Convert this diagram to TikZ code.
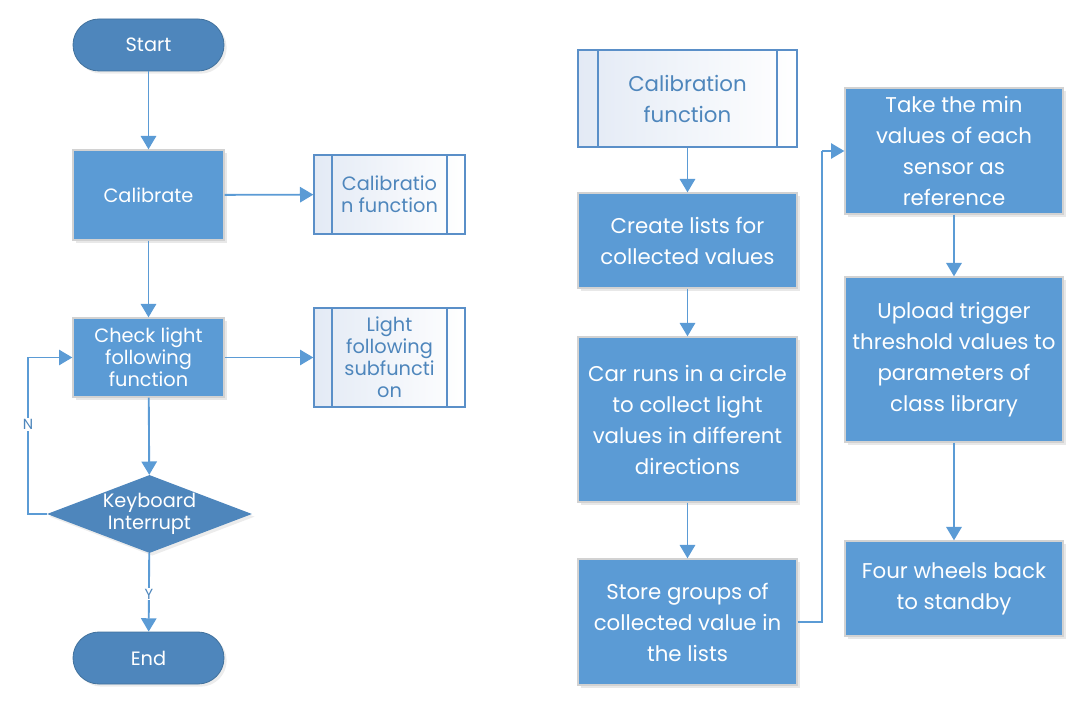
\documentclass[tikz,border=0pt]{standalone}
\usepackage{fontspec}
\setmainfont{Poppins}
\usetikzlibrary{shapes.geometric,arrows.meta,shadows}
\definecolor{boxblue}{HTML}{5B9BD5}
\definecolor{termblue}{HTML}{4E86BC}
\definecolor{termedge}{HTML}{41719C}
\definecolor{subedge}{HTML}{5A8FC8}
\definecolor{sublight}{HTML}{E3EAF5}
\tikzset{
  flow/.style={draw=boxblue, line width=1.4pt, -{Triangle[length=10pt,width=11.5pt]}},
  link/.style={draw=boxblue, line width=1.4pt},
  proc/.style={rectangle, fill=boxblue, draw=gray!35, line width=1pt, text=white, align=center,
    inner sep=2pt, drop shadow={opacity=0.18, shadow xshift=2pt, shadow yshift=-2pt}},
  term/.style={rectangle, rounded corners=19.5pt, fill=termblue, draw=termedge, line width=0.6pt,
    text=white, align=center, minimum width=113.25pt, minimum height=39pt,
    drop shadow={opacity=0.15, shadow xshift=2pt, shadow yshift=-2pt}},
  decide/.style={diamond, aspect=2.63, inner sep=0pt, fill=termblue, text=white, align=center,
    minimum width=153.75pt, minimum height=58.5pt,
    drop shadow={opacity=0.15, shadow xshift=2pt, shadow yshift=-2pt}},
  subproc/.style={rectangle, draw=subedge, line width=1pt, left color=sublight, right color=white,
    text=termblue, align=center, inner sep=2pt,
    path picture={
      \draw[subedge, line width=1pt]
        ([xshift=#1]path picture bounding box.north west) -- ([xshift=#1]path picture bounding box.south west)
        ([xshift=-#1]path picture bounding box.north east) -- ([xshift=-#1]path picture bounding box.south east);}},
  small/.style={font=\fontsize{14.5}{16.5}\selectfont},
  big/.style={font=\fontsize{16}{23.25}\selectfont},
  yn/.style={fill=white, text=termblue, inner sep=1pt, font=\fontsize{11}{13}\selectfont}
}
\begin{document}
\begin{tikzpicture}[x=0.75pt, y=-0.75pt]
\useasboundingbox (0,0) rectangle (1083,709);
% left chart
\node[term, small] (start) at (148.5,45) {Start};
\node[proc, small, minimum width=113.25pt, minimum height=67.5pt] (calib) at (148.5,195) {Calibrate};
\node[subproc=13.5pt, small, minimum width=113.25pt, minimum height=59.25pt] (calfn) at (389.5,194.5) {Calibratio\\n function};
\node[proc, small, minimum width=113.25pt, minimum height=59.25pt] (check) at (148.5,357.5) {Check light\\following\\function};
\node[subproc=13.5pt, small, minimum width=113.25pt, minimum height=74.25pt] (lightfn) at (389.5,357.5) {Light\\following\\subfuncti\\on};
\node[decide, small] (kbd) at (149.5,514) {Keyboard\\Interrupt};
\node[term, small] (stop) at (148.5,658) {End};
\coordinate (loopbot) at (28,514);
\coordinate (looptop) at (28,357.5);

\draw[flow] (start) -- (calib);
\draw[flow] (calib) -- (calfn);
\draw[flow] (calib) -- (check);
\draw[flow] (check) -- (lightfn);
\draw[flow] (check) -- (kbd);
\draw[flow] (kbd) -- node[yn, pos=0.52] {Y} (stop);
\draw[link] (kbd.west) -- (loopbot) -- node[yn, pos=0.57] {N} (looptop);
\draw[flow] (looptop) -- (check.west);

% right chart
\node[subproc=15pt, big, minimum width=164.25pt, minimum height=72.75pt] (calmain) at (687.5,98.5) {Calibration\\function};
\node[proc, big, minimum width=164.25pt, minimum height=71.25pt] (lists) at (687.5,240.5) {Create lists for\\collected values};
\node[proc, big, minimum width=164.25pt, minimum height=123.75pt] (runs) at (687.5,419.5) {Car runs in a circle\\to collect light\\values in different\\directions};
\node[proc, big, minimum width=164.25pt, minimum height=94.5pt] (store) at (687.5,622) {Store groups of\\collected value in\\the lists};
\node[proc, big, minimum width=163.5pt, minimum height=94.5pt] (takemin) at (954,151) {Take the min\\values of each\\sensor as\\reference};
\node[proc, big, minimum width=163.5pt, minimum height=123.75pt] (upload) at (954,359.5) {Upload trigger\\threshold values to\\parameters of\\class library};
\node[proc, big, minimum width=163.5pt, minimum height=71.25pt] (wheels) at (954,588.5) {Four wheels back\\to standby};
\coordinate (jogbot) at (822,622);
\coordinate (jogtop) at (822,151);

\draw[flow] (calmain) -- (lists);
\draw[flow] (lists) -- (runs);
\draw[flow] (runs) -- (store);
\draw[link] (store.east) -- (jogbot) -- (jogtop);
\draw[flow] (jogtop) -- (takemin.west);
\draw[flow] (takemin) -- (upload);
\draw[flow] (upload) -- (wheels);
\end{tikzpicture}
\end{document}
